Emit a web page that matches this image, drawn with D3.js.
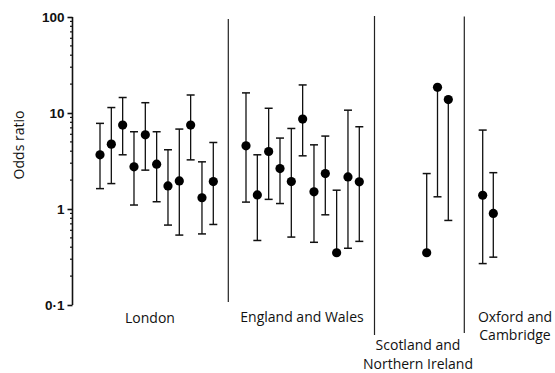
<!DOCTYPE html>
<html>
<head>
<meta charset="utf-8">
<script src="https://cdn.jsdelivr.net/npm/d3@7"></script>
<style>
  body { margin: 0; background: #fff; }
  svg { display: block; }
</style>
</head>
<body>
<svg id="chart" width="555" height="373"></svg>
<script>
// Odds ratios with 95% confidence limits, by region (null = limit not drawn)
const groups = ['London', 'England and Wales', 'Scotland and Northern Ireland', 'Oxford and Cambridge'];

const londonOR    = [3.67, 4.74, 7.49, 2.75, 5.93, 2.93, 1.74, 1.96, 7.49, 1.31, 1.93];
const londonLow   = [1.63, 1.84, 3.67, 1.10, 2.54, 1.19, 0.68, 0.535, 3.25, 0.55, 0.69];
const londonHigh  = [7.8, 11.4, 14.5, 6.38, 12.8, 6.38, 4.14, 6.8, 15.4, 3.1, 4.93];

const ewOR        = [4.55, 1.40, 3.97, 2.64, 1.93, 8.65, 1.51, 2.34, 0.35, 2.16, 1.92];
const ewLow       = [1.18, 0.47, 1.26, 1.14, 0.51, 3.58, 0.45, 0.87, null, 0.39, 0.46];
const ewHigh      = [16.2, 3.67, 11.2, 5.48, 6.9, 19.6, 4.66, 5.75, 1.57, 10.7, 7.19];

const scotOR      = [0.35, 18.5, 13.8];
const scotLow     = [null, 1.34, 0.76];
const scotHigh    = [2.34, null, null];

const oxOR        = [1.39, 0.90];
const oxLow       = [0.27, 0.315];
const oxHigh      = [6.64, 2.39];

const yTicks = [0.1, 1, 10, 100];
const yTickLabels = ['0·1', '1', '10', '100'];

const series = [
    { or: londonOR, low: londonLow, high: londonHigh },
    { or: ewOR, low: ewLow, high: ewHigh },
    { or: scotOR, low: scotLow, high: scotHigh },
    { or: oxOR, low: oxLow, high: oxHigh }
];

// Layout: horizontal span of each group's points
const groupRange = [[100, 213.3], [246, 359.3], [426.7, 448.3], [482.7, 493.3]];
const dividerX = [228.3, 374.5, 464.3];
const dividerTop = [19, 16, 16.5];
const dividerBottom = [302, 335, 333];

const svg = d3.select('#chart');
const axisX = 72.5;

const y = d3.scaleLog()
    .domain([0.1, 100])
    .range([305, 17]);

// Y axis
const axis = d3.axisLeft(y)
    .tickValues(yTicks)
    .tickFormat((d, i) => yTickLabels[i])
    .tickSize(5)
    .tickPadding(3);

const axisG = svg.append('g')
    .attr('transform', `translate(${axisX},0)`)
    .call(axis);

axisG.select('.domain')
    .attr('d', `M0,${y(0.1)}V${y(100)}`)
    .attr('stroke', '#111')
    .attr('stroke-width', 1.6);

axisG.selectAll('.tick line')
    .attr('stroke', '#111')
    .attr('stroke-width', 1.6);

axisG.selectAll('.tick text')
    .attr('fill', '#111')
    .style('font', 'bold 13.5px "Liberation Sans", Arial, sans-serif');

// Minor ticks
const minor = [];
[0.1, 1, 10].forEach(base => {
    for (let k = 2; k <= 9; k++) minor.push(base * k);
});
svg.append('g')
    .selectAll('line')
    .data(minor)
    .join('line')
    .attr('x1', axisX - 2.5)
    .attr('x2', axisX)
    .attr('y1', d => y(d))
    .attr('y2', d => y(d))
    .attr('stroke', '#111')
    .attr('stroke-width', 1.2);

// Y title
svg.append('text')
    .attr('transform', 'translate(24,145) rotate(-90)')
    .attr('text-anchor', 'middle')
    .attr('fill', '#111')
    .style('font', '14px "Open Sans", sans-serif')
    .text('Odds ratio');

// Group dividers
svg.append('g')
    .selectAll('line')
    .data(dividerX)
    .join('line')
    .attr('x1', d => d)
    .attr('x2', d => d)
    .attr('y1', (d, i) => dividerTop[i])
    .attr('y2', (d, i) => dividerBottom[i])
    .attr('stroke', '#222')
    .attr('stroke-width', 1.2);

// Points with confidence intervals
const capW = 4;
series.forEach((s, gi) => {
    const x = d3.scalePoint()
        .domain(d3.range(s.or.length))
        .range(groupRange[gi]);

    const pts = s.or.map((v, i) => ({ i, v, low: s.low[i], high: s.high[i] }));
    const g = svg.append('g');

    g.selectAll('line.ci')
        .data(pts)
        .join('line')
        .attr('class', 'ci')
        .attr('x1', d => x(d.i))
        .attr('x2', d => x(d.i))
        .attr('y1', d => y(d.high ?? d.v))
        .attr('y2', d => y(d.low ?? d.v))
        .attr('stroke', '#111')
        .attr('stroke-width', 1.3);

    const caps = [];
    pts.forEach(d => {
        if (d.high != null) caps.push({ i: d.i, v: d.high });
        if (d.low != null) caps.push({ i: d.i, v: d.low });
    });
    g.selectAll('line.cap')
        .data(caps)
        .join('line')
        .attr('class', 'cap')
        .attr('x1', d => x(d.i) - capW)
        .attr('x2', d => x(d.i) + capW)
        .attr('y1', d => y(d.v))
        .attr('y2', d => y(d.v))
        .attr('stroke', '#111')
        .attr('stroke-width', 1.5);

    g.selectAll('circle')
        .data(pts)
        .join('circle')
        .attr('cx', d => x(d.i))
        .attr('cy', d => y(d.v))
        .attr('r', 4.6)
        .attr('fill', '#000');
});

// Group labels
const labelFont = '14px "Open Sans", sans-serif';
const labels = [
    { lines: ['London'], x: 150, y: 323, gap: 0 },
    { lines: ['England and Wales'], x: 302, y: 322, gap: 0 },
    { lines: ['Scotland and', 'Northern Ireland'], x: 418, y: 350, gap: 19 },
    { lines: ['Oxford and', 'Cambridge'], x: 515, y: 322, gap: 18 }
];
labels.forEach(l => {
    const t = svg.append('text')
        .attr('text-anchor', 'middle')
        .attr('fill', '#111')
        .style('font', labelFont);
    l.lines.forEach((line, k) => {
        t.append('tspan')
            .attr('x', l.x)
            .attr('y', l.y + k * l.gap)
            .text(line);
    });
});
</script>
</body>
</html>
